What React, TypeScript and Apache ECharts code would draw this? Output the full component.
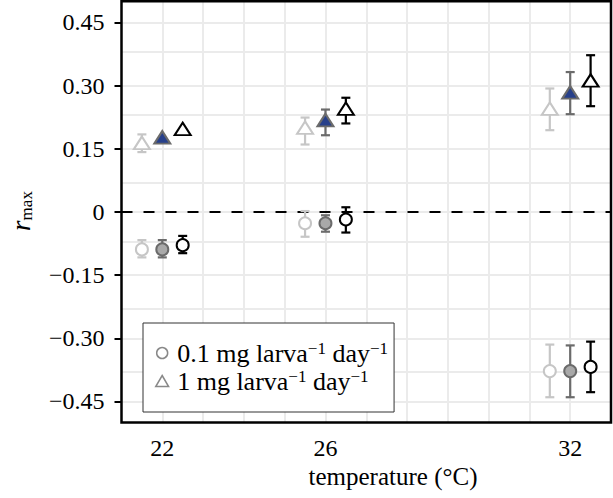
import React, { useEffect, useRef } from "react";
import * as echarts from "echarts";

// ---------- data ----------
const temperatures = [22, 26, 32];
const xTicks = [22, 24, 26, 28, 30, 32];
const xLabels = [22, 26, 32];
const yTicks = [-0.45, -0.3, -0.15, 0, 0.15, 0.3, 0.45];
const gridXLines = [22, 23, 24, 25, 26, 27, 28, 29, 30, 31, 32];
const gridYLines = [-0.45, -0.375, -0.3, -0.225, -0.15, -0.075, 0, 0.075, 0.15, 0.225, 0.3, 0.375, 0.45];
const legendLabels = ["0.1 mg larva", "1 mg larva"];

// 0.1 mg larva-1 day-1 (circles)
const lowMeanLight = [-0.089, -0.027, -0.378];
const lowLoLight = [-0.108, -0.059, -0.44];
const lowHiLight = [-0.067, 0.002, -0.315];
const lowMeanMid = [-0.089, -0.027, -0.378];
const lowLoMid = [-0.108, -0.047, -0.44];
const lowHiMid = [-0.067, -0.008, -0.317];
const lowMeanDark = [-0.079, -0.018, -0.368];
const lowLoDark = [-0.098, -0.049, -0.428];
const lowHiDark = [-0.057, 0.011, -0.308];

// 1 mg larva-1 day-1 (triangles)
const highMeanLight = [0.164, 0.2, 0.245];
const highLoLight = [0.142, 0.16, 0.194];
const highHiLight = [0.184, 0.224, 0.293];
const highMeanMid = [0.177, 0.218, 0.284];
const highLoMid = [null, 0.182, 0.232];
const highHiMid = [null, 0.243, 0.332];
const highMeanDark = [0.197, 0.245, 0.312];
const highLoDark = [null, 0.21, 0.251];
const highHiDark = [null, 0.271, 0.372];

// ---------- styles ----------
const FONT = "Liberation Serif";
const LIGHT = "#c6c6c6";
const MID = "#6b6b6b";
const DARK = "#000000";
const MID_FILL = "#a9a9a9";
const BLUE = "#27408b";
const GRIDC = "#ebebeb";
const OFFSETS = [-0.5, 0, 0.5];

function pts(means: number[], off: number) {
  return temperatures.map((t, i) => [t + off, means[i]]);
}
function bars(lo: (number | null)[], hi: (number | null)[], off: number) {
  const out: number[][] = [];
  temperatures.forEach((t, i) => {
    if (lo[i] != null && hi[i] != null) out.push([t + off, lo[i] as number, hi[i] as number]);
  });
  return out;
}

function errorSeries(data: number[][], color: string) {
  return {
    type: "custom",
    z: 3,
    silent: true,
    encode: { x: 0, y: [1, 2] },
    renderItem: (params: any, api: any) => {
      const x = api.value(0);
      const a = api.coord([x, api.value(1)]);
      const b = api.coord([x, api.value(2)]);
      const st = { stroke: color, lineWidth: 2.2 };
      const hw = 4.5;
      return {
        type: "group",
        children: [
          { type: "line", shape: { x1: a[0], y1: a[1], x2: b[0], y2: b[1] }, style: st },
          { type: "line", shape: { x1: a[0] - hw, y1: a[1], x2: a[0] + hw, y2: a[1] }, style: st },
          { type: "line", shape: { x1: b[0] - hw, y1: b[1], x2: b[0] + hw, y2: b[1] }, style: st },
        ],
      };
    },
    data,
  };
}

function markerSeries(data: number[][], symbol: string, size: any, fill: string, stroke: string) {
  return {
    type: "scatter",
    z: 6,
    silent: true,
    symbol,
    symbolSize: size,
    itemStyle: { color: fill, borderColor: stroke, borderWidth: 2, opacity: 1 },
    emphasis: { disabled: true },
    data,
  };
}

export default function App() {
  const ref = useRef<HTMLDivElement>(null);
  useEffect(() => {
    if (!ref.current) return;
    const chart = echarts.init(ref.current, undefined, { renderer: "svg" });

    const circleSpecs = [
      { m: lowMeanLight, lo: lowLoLight, hi: lowHiLight, stroke: LIGHT, fill: "#fff", off: OFFSETS[0] },
      { m: lowMeanMid, lo: lowLoMid, hi: lowHiMid, stroke: MID, fill: MID_FILL, off: OFFSETS[1] },
      { m: lowMeanDark, lo: lowLoDark, hi: lowHiDark, stroke: DARK, fill: "#fff", off: OFFSETS[2] },
    ];
    const triSpecs = [
      { m: highMeanLight, lo: highLoLight, hi: highHiLight, stroke: LIGHT, fill: "#fff", off: OFFSETS[0] },
      { m: highMeanMid, lo: highLoMid, hi: highHiMid, stroke: MID, fill: BLUE, off: OFFSETS[1] },
      { m: highMeanDark, lo: highLoDark, hi: highHiDark, stroke: DARK, fill: "#fff", off: OFFSETS[2] },
    ];

    const series: any[] = [
      {
        type: "scatter",
        data: [],
        z: 1,
        silent: true,
        markLine: {
          z: 1,
          silent: true,
          symbol: ["none", "none"],
          label: { show: false },
          emphasis: { disabled: true },
          lineStyle: { color: GRIDC, width: 2, type: "solid" },
          data: [
            ...gridXLines.map((v) => ({ xAxis: v })),
            ...gridYLines.map((v) => ({ yAxis: v })),
          ],
        },
      },
      {
        type: "scatter",
        data: [],
        z: 2,
        silent: true,
        markLine: {
          z: 2,
          silent: true,
          symbol: ["none", "none"],
          label: { show: false },
          emphasis: { disabled: true },
          lineStyle: { color: "#000", width: 2, type: [11, 11] },
          data: [{ yAxis: 0 }],
        },
      },
    ];
    [...circleSpecs, ...triSpecs].forEach((s) => {
      series.push(errorSeries(bars(s.lo, s.hi, s.off), s.stroke));
    });
    circleSpecs.forEach((s) => {
      series.push(markerSeries(pts(s.m, s.off), "circle", 12, s.fill, s.stroke));
    });
    triSpecs.forEach((s) => {
      series.push(markerSeries(pts(s.m, s.off), "triangle", [16, 12.5], s.fill, s.stroke));
    });
    legendLabels.forEach((n) => {
      series.push({
        type: "scatter",
        name: n,
        data: [],
        itemStyle: { color: "#fff", borderColor: MID, borderWidth: 1.5 },
      });
    });

    const fmtY = (v: number) =>
      Math.abs(v) < 1e-9 ? "0" : (v < 0 ? "\u2212" : "") + Math.abs(v).toFixed(2);

    chart.setOption({
      animation: false,
      textStyle: { fontFamily: FONT },
      grid: {
        left: 121.5,
        right: 2,
        top: 1.3,
        bottom: 75.5,
        show: true,
        borderColor: "#000",
        borderWidth: 2.5,
        backgroundColor: "transparent",
        z: 10,
      },
      xAxis: {
        type: "value",
        min: 21,
        max: 33,
        axisLine: { show: false },
        splitLine: { show: false },
        axisTick: { show: true, length: 7, lineStyle: { color: "#000", width: 2 }, customValues: xTicks },
        axisLabel: {
          customValues: xLabels,
          color: "#000",
          fontSize: 24,
          fontFamily: FONT,
          margin: 13,
        },
      },
      yAxis: {
        type: "value",
        min: -0.5,
        max: 0.5,
        axisLine: { show: false },
        splitLine: { show: false },
        axisTick: { show: true, length: 7, lineStyle: { color: "#000", width: 2 }, customValues: yTicks },
        axisLabel: {
          customValues: yTicks,
          formatter: fmtY,
          color: "#000",
          fontSize: 24,
          fontFamily: FONT,
          margin: 17,
        },
      },
      legend: {
        orient: "vertical",
        left: 143,
        top: 323,
        z: 20,
        padding: [17, 6, 18, 12],
        itemGap: 2,
        itemWidth: 20,
        itemHeight: 11,
        backgroundColor: "#fff",
        borderColor: "#333",
        borderWidth: 1,
        borderRadius: 0,
        selectedMode: false,
        data: [
          { name: legendLabels[0], icon: "circle" },
          { name: legendLabels[1], icon: "path://M7,0L14,12L0,12Z" },
        ],
        itemStyle: { color: "#fff", borderColor: MID, borderWidth: 1.5 },
        formatter: (name: string) => `{n|${name}}{s|\u22121}{n| day}{s|\u22121}`,
        textStyle: {
          color: "#000",
          fontFamily: FONT,
          fontSize: 26,
          rich: {
            n: { fontSize: 26, lineHeight: 26, fontFamily: FONT, color: "#000" },
            s: { fontSize: 17, lineHeight: 15, verticalAlign: "top", fontFamily: FONT, color: "#000" },
          },
        },
      },
      graphic: [
        {
          type: "text",
          x: 393,
          y: 476,
          silent: true,
          style: {
            text: "temperature (\u00b0C)",
            fill: "#000",
            fontSize: 25,
            fontFamily: FONT,
            align: "center",
            verticalAlign: "middle",
            textAlign: "center",
            textVerticalAlign: "middle",
          },
        },
        {
          type: "text",
          x: 21,
          y: 211,
          rotation: Math.PI / 2,
          silent: true,
          style: {
            text: "{r|r}{s|max}",
            fill: "#000",
            fontFamily: FONT,
            align: "center",
            verticalAlign: "middle",
            textAlign: "center",
            textVerticalAlign: "middle",
            rich: {
              r: { fontSize: 27, fontStyle: "italic", lineHeight: 28, fontFamily: FONT, fill: "#000" },
              s: { fontSize: 17, lineHeight: 16, verticalAlign: "bottom", fontFamily: FONT, fill: "#000" },
            },
          },
        },
      ],
      series,
    });
    return () => chart.dispose();
  }, []);
  return (
    <div
      ref={ref}
      style={{ position: "fixed", left: 0, top: 0, width: 613, height: 498, background: "#fff" }}
    />
  );
}
